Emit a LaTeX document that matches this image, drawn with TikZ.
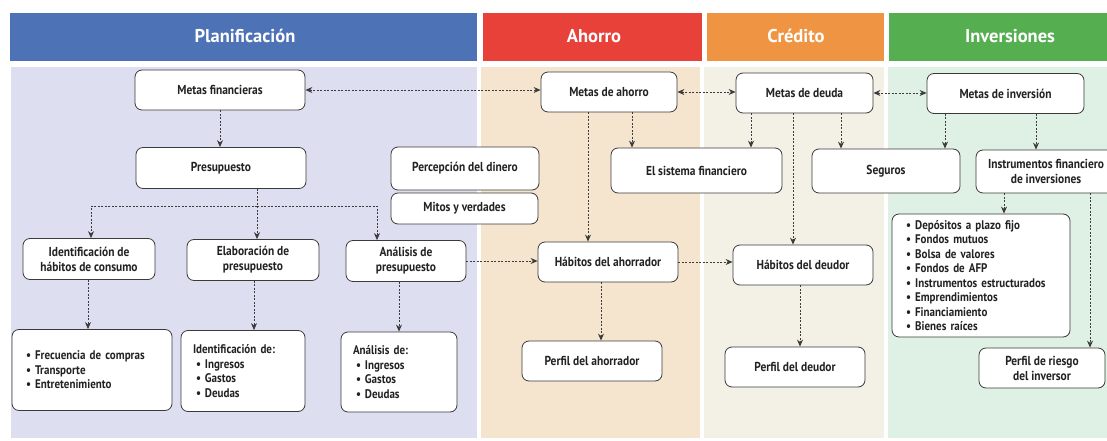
\documentclass[tikz,border=0pt]{standalone}
\usepackage{fontspec}
\setmainfont{PT Sans}
\newfontfamily\nodefont[FakeStretch=0.88]{PT Sans}
\usetikzlibrary{arrows.meta}
\definecolor{bandblue}{HTML}{4E72B6}
\definecolor{bandred}{HTML}{E8413A}
\definecolor{bandorange}{HTML}{EF9443}
\definecolor{bandgreen}{HTML}{55AE4F}
\definecolor{bglav}{HTML}{DEDEF1}
\definecolor{bgbeige}{HTML}{F5E5CF}
\definecolor{bgcream}{HTML}{F3F0E5}
\definecolor{bggreen}{HTML}{DFF1E4}
\definecolor{boxline}{HTML}{3A3A3A}
\definecolor{arrowgray}{HTML}{3C3C3C}
\definecolor{txt}{HTML}{222222}
\begin{document}
\begin{tikzpicture}[x=1pt,y=-1pt,
  band/.style={inner sep=0pt, text=white, minimum height=48pt,
    font=\bfseries\fontsize{18.5}{20}\selectfont},
  box/.style={draw=boxline, line width=0.8pt, fill=white, rounded corners=7pt,
    inner sep=0pt, align=center, text=txt,
    font=\nodefont\bfseries\fontsize{13}{15}\selectfont},
  listbox/.style={box, align=left, inner ysep=0pt,
    font=\nodefont\bfseries\fontsize{12.5}{14.5}\selectfont},
  arr/.style={draw=arrowgray, line width=0.8pt, dash pattern=on 2pt off 1.5pt,
    -{Stealth[length=7pt,width=6pt]}},
  biarr/.style={arr, {Stealth[length=7pt,width=6pt]}-{Stealth[length=7pt,width=6pt]}}
]
\useasboundingbox (0,0) rectangle (1107,441);
\clip (0,0) rectangle (1107,441);
\fill[white] (0,0) rectangle (1107,441);

% column backgrounds
\fill[bglav] (11,67) rectangle (477,438);
\fill[bgbeige] (481,67) rectangle (700,438);
\fill[bgcream] (704,67) rectangle (884,438);
\fill[bggreen] (888,67) rectangle (1107,438);

% header bands
\fill[bandblue] (10,13) rectangle (477,61);
\fill[bandred] (483,13) rectangle (702,61);
\fill[bandorange] (707,13) rectangle (884,61);
\fill[bandgreen] (889,13) rectangle (1107,61);
\node[band] (hplan) at (245,36) {Planificación};
\node[band] (hahor) at (594,36) {Ahorro};
\node[band] (hcred) at (796,36) {Crédito};
\node[band] (hinv) at (1010,36) {Inversiones};

% Planificación
\node[box, minimum width=170pt, minimum height=40pt] (mf) at (220,90) {Metas financieras};
\node[box, minimum width=170pt, minimum height=41pt] (pres) at (221,168) {Presupuesto};
\node[box, minimum width=148pt, minimum height=43pt] (perc) at (465,168.5) {Percepción del dinero};
\node[box, minimum width=147pt, minimum height=31pt] (mitos) at (464.5,208.5) {Mitos y verdades};
\node[box, minimum width=132pt, minimum height=41pt] (idh) at (89,259) {Identificación de\\hábitos de consumo};
\node[box, minimum width=132pt, minimum height=41pt] (elab) at (253,260) {Elaboración de\\presupuesto};
\node[box, minimum width=120pt, minimum height=41pt] (anal) at (406,261) {Análisis de\\presupuesto};
\node[listbox, inner xsep=14pt, text width=132pt, minimum height=81pt] (lista1) at (92,370)
  {• Frecuencia de compras\\• Transporte\\• Entretenimiento};
\node[listbox, inner xsep=12pt, text width=100pt, minimum height=81pt] (lista2) at (243,371)
  {Identificación de:\\\hspace*{3pt}•\hspace{4pt}Ingresos\\\hspace*{3pt}•\hspace{4pt}Gastos\\\hspace*{3pt}•\hspace{4pt}Deudas};
\node[listbox, inner xsep=12pt, text width=92pt, minimum height=80pt] (lista3) at (399,372)
  {Análisis de:\\\hspace*{3pt}•\hspace{4pt}Ingresos\\\hspace*{3pt}•\hspace{4pt}Gastos\\\hspace*{3pt}•\hspace{4pt}Deudas};

% Ahorro
\node[box, minimum width=136pt, minimum height=40pt] (ma) at (609,92) {Metas de ahorro};
\node[box, minimum width=171pt, minimum height=45pt] (sf) at (696.5,170.5) {El sistema financiero};
\node[box, minimum width=140pt, minimum height=40pt] (hah) at (608,262) {Hábitos del ahorrador};
\node[box, minimum width=140pt, minimum height=40pt] (pah) at (592,361) {Perfil del ahorrador};

% Crédito
\node[box, minimum width=137pt, minimum height=40pt] (md) at (804.5,93) {Metas de deuda};
\node[box, minimum width=148pt, minimum height=44pt] (seg) at (886,171) {Seguros};
\node[box, minimum width=140pt, minimum height=40pt] (hde) at (803,265) {Hábitos del deudor};
\node[box, minimum width=140pt, minimum height=40pt] (pde) at (795,367) {Perfil del deudor};

% Inversiones
\node[box, minimum width=157pt, minimum height=40pt] (mi) at (1005.5,93.5) {Metas de inversión};
\node[box, minimum width=140pt, minimum height=43pt] (inst) at (1046,171.5) {Instrumentos financiero\\de inversiones};
\node[listbox, inner xsep=14pt, text width=150pt, minimum height=123pt] (lista4) at (981,275.5)
  {• Depósitos a plazo fijo\\• Fondos mutuos\\• Bolsa de valores\\• Fondos de AFP\\• Instrumentos estructurados\\• Emprendimientos\\• Financiamiento\\• Bienes raíces};
\node[box, minimum width=126pt, minimum height=40pt] (riesgo) at (1042,368) {Perfil de riesgo\\del inversor};

% connectors
\draw[biarr] (mf.east) -- (mf.east -| ma.west);
\draw[biarr] (ma.east) -- (ma.east -| md.west);
\draw[biarr] (md.east) -- (md.east -| mi.west);
\draw[arr] (mf.south) -- (mf.south |- pres.north);
\coordinate (br) at (257,206);
\draw[arr] (257,0 |- pres.south) -- (257,0 |- elab.north);
\draw[arr] (br) -| (91,0 |- idh.north);
\draw[arr] (br) -| (377,0 |- anal.north);
\draw[arr] (88,0 |- idh.south) -- (88,0 |- lista1.north);
\draw[arr] (254,0 |- elab.south) -- (254,0 |- lista2.north);
\draw[arr] (399,0 |- anal.south) -- (399,0 |- lista3.north);
\draw[arr] (anal.east) -- (anal.east -| hah.west);
\draw[arr] (hah.east) -- (hah.east -| hde.west);
\draw[arr] (588,0 |- ma.south) -- (588,0 |- hah.north);
\draw[arr] (632,0 |- ma.south) -- (632,0 |- sf.north);
\draw[arr] (751,0 |- md.south) -- (751,0 |- sf.north);
\draw[arr] (793,0 |- md.south) -- (793,0 |- hde.north);
\draw[arr] (841,0 |- md.south) -- (841,0 |- seg.north);
\draw[arr] (945,0 |- mi.south) -- (945,0 |- seg.north);
\draw[arr] (1036,0 |- mi.south) -- (1036,0 |- inst.north);
\draw[arr] (1004,0 |- inst.south) -- (1004,0 |- lista4.north);
\draw[arr] (1090,0 |- inst.south) -- (1090,0 |- riesgo.north);
\draw[arr] (601,0 |- hah.south) -- (601,0 |- pah.north);
\draw[arr] (800,0 |- hde.south) -- (800,0 |- pde.north);
\end{tikzpicture}
\end{document}
